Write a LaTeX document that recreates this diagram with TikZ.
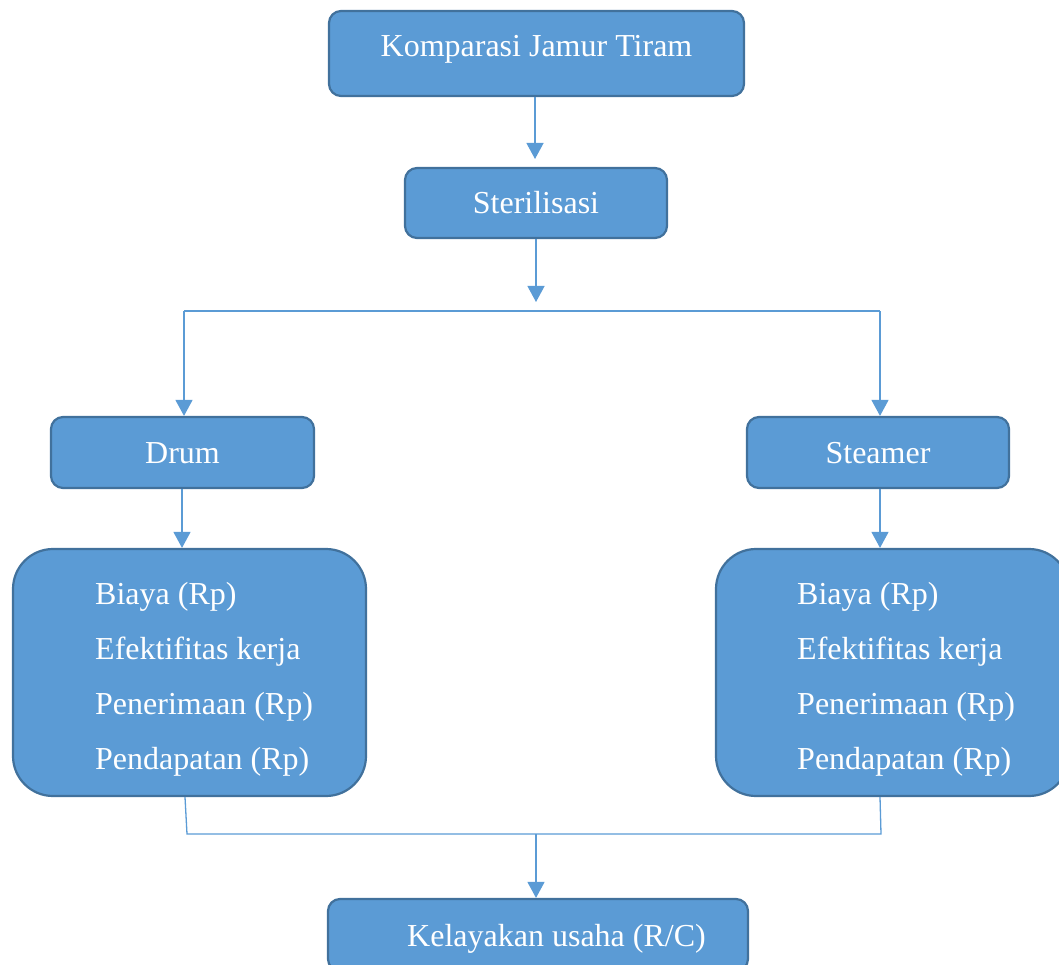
\documentclass[tikz,border=0pt]{standalone}
\usepackage{fontspec}
\setmainfont{Liberation Serif}
\usetikzlibrary{arrows.meta}
\definecolor{boxfill}{HTML}{5B9BD5}
\definecolor{boxline}{HTML}{41719C}
\definecolor{conn}{HTML}{5B9BD5}
\tikzset{
  box/.style={draw=boxline, fill=boxfill, line width=2.2pt, rounded corners=12pt, inner sep=0pt},
  bigbox/.style={box, rounded corners=40pt},
  txt/.style={text=white, font=\fontsize{32}{38}\selectfont, inner sep=0pt},
  conn/.style={draw=conn, line width=1.3pt},
  arr/.style={conn, -{Triangle[length=16pt,width=17pt]}},
}
\begin{document}
\begin{tikzpicture}[x=1pt,y=-1pt]
\useasboundingbox (0,0) rectangle (1059,965);
\clip (0,0) rectangle (1059,965);
% boxes
\node[box, minimum width=415pt, minimum height=85pt] (k) at (536.5,53.5) {};
\node[txt, anchor=base] (kt) at (536.5,57) {Komparasi Jamur Tiram};
\node[box, minimum width=262pt, minimum height=70pt] (s) at (536,203) {};
\node[txt, anchor=base] (st) at (536,214) {Sterilisasi};
\node[box, minimum width=263pt, minimum height=71pt] (d) at (182.5,452.5) {};
\node[txt, anchor=base] (dt) at (182.5,463) {Drum};
\node[box, minimum width=262pt, minimum height=71pt] (m) at (878,452.5) {};
\node[txt, anchor=base] (mt) at (878,463) {Steamer};
\node[bigbox, minimum width=353pt, minimum height=247pt] (L) at (189.5,672.5) {};
\node[bigbox, minimum width=353pt, minimum height=247pt] (R) at (892.5,672.5) {};
\node[box, minimum width=420pt, minimum height=72pt] (c) at (538,935) {};
\node[txt, anchor=base] (ct) at (556.5,946) {Kelayakan usaha (R/C)};
% list text
\node[txt, anchor=base west] (l1) at (95,604) {Biaya (Rp)};
\node[txt, anchor=base west] (l2) at (95,659) {Efektifitas kerja};
\node[txt, anchor=base west] (l3) at (95,714) {Penerimaan (Rp)};
\node[txt, anchor=base west] (l4) at (95,769) {Pendapatan (Rp)};
\node[txt, anchor=base west] (r1) at (797,604) {Biaya (Rp)};
\node[txt, anchor=base west] (r2) at (797,659) {Efektifitas kerja};
\node[txt, anchor=base west] (r3) at (797,714) {Penerimaan (Rp)};
\node[txt, anchor=base west] (r4) at (797,769) {Pendapatan (Rp)};
% coordinates
\coordinate (k1) at (535,159);
\coordinate (s1) at (536,302);
\coordinate (hl) at (184,311);
\coordinate (hr) at (880,311);
\coordinate (hm) at (536,311);
\coordinate (bl) at (187,834);
\coordinate (br) at (881,834);
\coordinate (bm) at (536,834);
% connectors
\draw[arr] (k.south -| k1) -- (k1);
\draw[arr] (s.south -| s1) -- (s1);
\draw[conn] (hl) -- (hr);
\draw[arr] (hl) -- (d.north -| hl);
\draw[arr] (hr) -- (m.north -| hr);
\draw[arr] (d.south -| 182,0) -- (L.north -| 182,0);
\draw[arr] (m.south -| 880,0) -- (R.north -| 880,0);
\draw[conn] (L.south -| 185,0) -- (bl) -- (br) -- (R.south -| 880,0);
\draw[arr] (bm) -- (c.north -| bm);
\end{tikzpicture}
\end{document}
